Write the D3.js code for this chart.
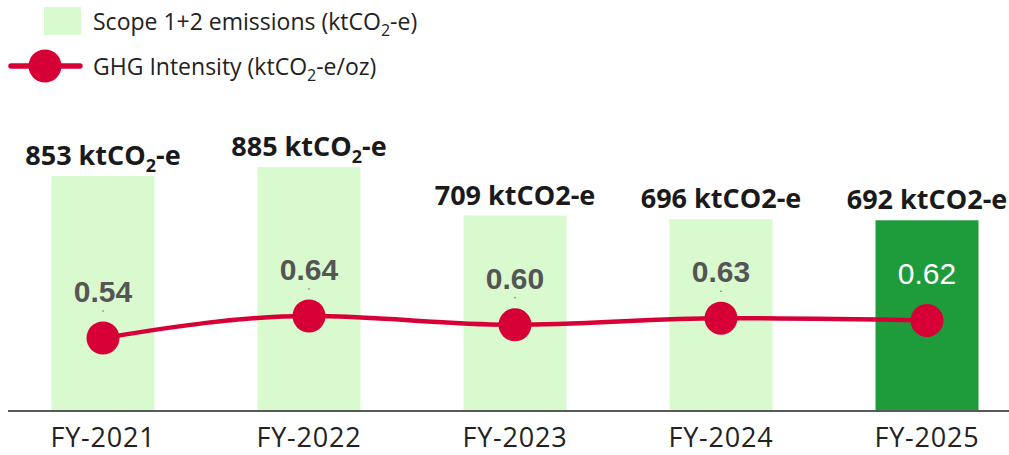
<!DOCTYPE html>
<html>
<head>
<meta charset="utf-8">
<script src="https://cdn.jsdelivr.net/npm/d3@7"></script>
<style>
  body { margin: 0; background: #fff; }
  svg { display: block; }
</style>
</head>
<body>
<script>
// chart data
const years = ["FY-2021", "FY-2022", "FY-2023", "FY-2024", "FY-2025"];
const emissions = [853, 885, 709, 696, 692];
const intensity = [0.54, 0.64, 0.60, 0.63, 0.62];
const subscriptUnit = [true, true, false, false, false];

const width = 1009, height = 455;
const baseY = 411;

var svg = d3.select("body").append("svg")
    .attr("width", width)
    .attr("height", height);

var x = d3.scaleBand()
    .domain(years)
    .range([0, 1030])
    .paddingInner(0.5)
    .paddingOuter(0.25);

var y = d3.scaleLinear().domain([0, 1000]).range([baseY, baseY - 275.6]);
var y2 = d3.scaleLinear().domain([0.5, 0.7]).range([346.8, 302.8]);

var rows = years.map((yr, i) => ({
    yr, e: emissions[i], v: intensity[i], sub: subscriptUnit[i], last: i === years.length - 1
}));

// bars
svg.selectAll("rect.bar")
  .data(rows)
  .join("rect")
    .attr("class", "bar")
    .attr("x", d => x(d.yr))
    .attr("y", d => y(d.e))
    .attr("width", x.bandwidth())
    .attr("height", d => y(0) - y(d.e))
    .attr("fill", d => d.last ? "#1e9b3b" : "#d9f9cf");

// axis line + ticks labels
svg.append("line")
    .attr("x1", 8).attr("x2", width)
    .attr("y1", baseY).attr("y2", baseY)
    .attr("stroke", "#595959").attr("stroke-width", 2);

var xAxis = svg.append("g")
    .attr("transform", `translate(0,${baseY})`)
    .call(d3.axisBottom(x).tickSize(0).tickPadding(0));
xAxis.select(".domain").remove();
xAxis.selectAll("text")
    .attr("dy", null)
    .attr("y", 36)
    .attr("fill", "#222")
    .style("font-family", "'Open Sans', sans-serif")
    .style("font-size", "27px")
    .style("letter-spacing", "0.8px");

// emission labels above bars
var elab = svg.selectAll("text.elab")
  .data(rows)
  .join("text")
    .attr("class", "elab")
    .attr("x", d => x(d.yr) + x.bandwidth() / 2)
    .attr("y", d => y(d.e) - 11)
    .attr("text-anchor", "middle")
    .attr("fill", "#1a1a1a")
    .style("font-family", "'Open Sans', sans-serif")
    .style("font-weight", "bold")
    .style("font-size", "27px");
elab.each(function(d) {
    var t = d3.select(this);
    if (d.sub) {
        t.append("tspan").text(d.e + " ktCO");
        t.append("tspan").attr("dy", 7).style("font-size", "18px").text("2");
        t.append("tspan").attr("dy", -7).text("-e");
    } else {
        t.text(d.e + " ktCO2-e");
    }
});

// intensity line
var line = d3.line()
    .x(d => x(d.yr) + x.bandwidth() / 2)
    .y(d => y2(d.v))
    .curve(d3.curveMonotoneX);

svg.append("path")
    .datum(rows)
    .attr("d", line)
    .attr("fill", "none")
    .attr("stroke", "#d70036")
    .attr("stroke-width", 4.5);

svg.selectAll("circle.pt")
  .data(rows)
  .join("circle")
    .attr("class", "pt")
    .attr("cx", d => x(d.yr) + x.bandwidth() / 2)
    .attr("cy", d => y2(d.v))
    .attr("r", 16.5)
    .attr("fill", "#d70036");

// tiny leader dots
svg.selectAll("circle.lead")
  .data(rows)
  .join("circle")
    .attr("class", "lead")
    .attr("cx", d => x(d.yr) + x.bandwidth() / 2)
    .attr("cy", d => y2(d.v) - 27)
    .attr("r", 0.8)
    .attr("fill", "#666");

svg.selectAll("text.vlab")
  .data(rows)
  .join("text")
    .attr("class", "vlab")
    .attr("x", d => x(d.yr) + x.bandwidth() / 2)
    .attr("y", d => y2(d.v) - 36)
    .attr("text-anchor", "middle")
    .attr("fill", d => d.last ? "#fff" : "#555")
    .style("font-family", "'Liberation Sans', Arial, sans-serif")
    .style("font-weight", d => d.last ? "normal" : "bold")
    .style("font-size", "30px")
    .text(d => d.v.toFixed(2));

// legend
var leg = svg.append("g")
    .style("font-family", "'Open Sans', sans-serif")
    .style("font-size", "23px")
    .attr("fill", "#222");

leg.append("rect")
    .attr("x", 44).attr("y", 7).attr("width", 37).attr("height", 28)
    .attr("fill", "#d9f9cf");
var t1 = leg.append("text").attr("x", 93).attr("y", 30);
t1.append("tspan").text("Scope 1+2 emissions (ktCO");
t1.append("tspan").attr("dy", 6).style("font-size", "16px").text("2");
t1.append("tspan").attr("dy", -6).text("-e)");

leg.append("line")
    .attr("x1", 11).attr("x2", 80).attr("y1", 66).attr("y2", 66)
    .attr("stroke", "#d70036").attr("stroke-width", 5.5)
    .attr("stroke-linecap", "round");
leg.append("circle")
    .attr("cx", 45).attr("cy", 66).attr("r", 16.5)
    .attr("fill", "#d70036");
var t2 = leg.append("text").attr("x", 93).attr("y", 75);
t2.append("tspan").text("GHG Intensity (ktCO");
t2.append("tspan").attr("dy", 6).style("font-size", "16px").text("2");
t2.append("tspan").attr("dy", -6).text("-e/oz)");
</script>
</body>
</html>
